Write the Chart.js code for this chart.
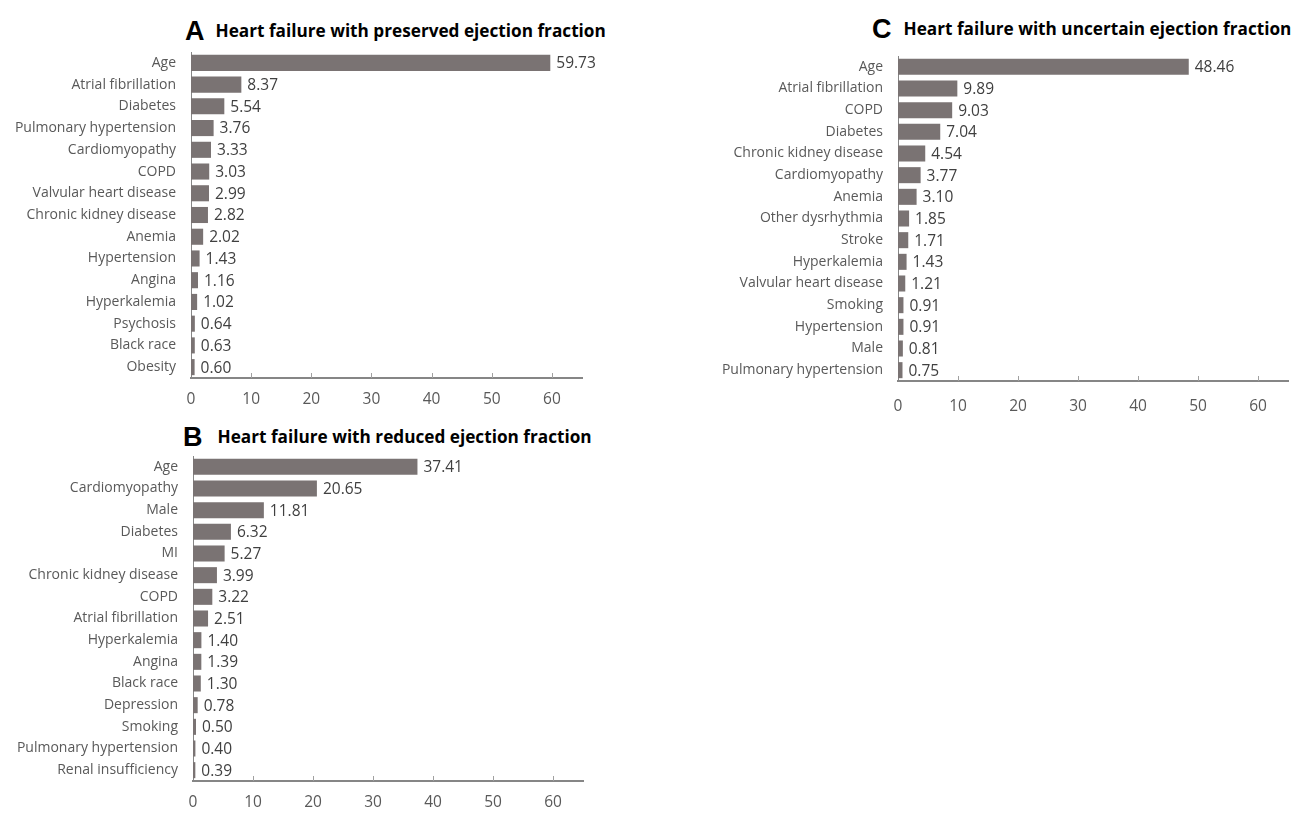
<!DOCTYPE html>
<html>
<head>
<meta charset="utf-8">
<script src="https://cdn.jsdelivr.net/npm/chart.js@4/dist/chart.umd.min.js"></script>
<style>
  html, body { margin:0; padding:0; background:#ffffff; }
  body { width:1299px; height:813px; position:relative; overflow:hidden; }
  canvas { position:absolute; }
  .title { position:absolute; white-space:nowrap; color:#000; }
  .title .big { font-family:'Liberation Sans', Arial, sans-serif; font-weight:bold; font-size:27px; vertical-align:-3px; }
  .title .txt { font-family:'Open Sans', sans-serif; font-weight:bold; font-size:17.2px; }
</style>
</head>
<body>
<div class="title" id="tA" style="left:185px; top:16px;"><span class="big" style="margin-right:11px;">A</span><span class="txt">Heart failure with preserved ejection fraction</span></div>
<div class="title" id="tB" style="left:183px; top:422px;"><span class="big" style="margin-right:15px;">B</span><span class="txt">Heart failure with reduced ejection fraction</span></div>
<div class="title" id="tC" style="left:872px; top:14px;"><span class="big" style="margin-right:12px;">C</span><span class="txt">Heart failure with uncertain ejection fraction</span></div>
<canvas id="cA"></canvas>
<canvas id="cB"></canvas>
<canvas id="cC"></canvas>
<script>
// ---- Data ----
const labelsA = ["Age","Atrial fibrillation","Diabetes","Pulmonary hypertension","Cardiomyopathy","COPD","Valvular heart disease","Chronic kidney disease","Anemia","Hypertension","Angina","Hyperkalemia","Psychosis","Black race","Obesity"];
const valuesA = [59.73,8.37,5.54,3.76,3.33,3.03,2.99,2.82,2.02,1.43,1.16,1.02,0.64,0.63,0.60];

const labelsB = ["Age","Cardiomyopathy","Male","Diabetes","MI","Chronic kidney disease","COPD","Atrial fibrillation","Hyperkalemia","Angina","Black race","Depression","Smoking","Pulmonary hypertension","Renal insufficiency"];
const valuesB = [37.41,20.65,11.81,6.32,5.27,3.99,3.22,2.51,1.40,1.39,1.30,0.78,0.50,0.40,0.39];

const labelsC = ["Age","Atrial fibrillation","COPD","Diabetes","Chronic kidney disease","Cardiomyopathy","Anemia","Other dysrhythmia","Stroke","Hyperkalemia","Valvular heart disease","Smoking","Hypertension","Male","Pulmonary hypertension"];
const valuesC = [48.46,9.89,9.03,7.04,4.54,3.77,3.10,1.85,1.71,1.43,1.21,0.91,0.91,0.81,0.75];

const axisMin = 0, axisMax = 65, axisStep = 10;

// ---- Style ----
Chart.defaults.font.family = "'Open Sans', sans-serif";
Chart.defaults.devicePixelRatio = 1;
const barColor = '#7a7373';
const labelColor = '#595959';
const valueColor = '#404040';
const axisColor = '#868686';

const valueLabels = {
  id: 'valueLabels',
  afterDatasetsDraw(chart) {
    const ctx = chart.ctx;
    const meta = chart.getDatasetMeta(0);
    const data = chart.data.datasets[0].data;
    ctx.save();
    ctx.font = "15.5px 'Open Sans', sans-serif";
    ctx.fillStyle = valueColor;
    ctx.textAlign = 'left';
    ctx.textBaseline = 'middle';
    meta.data.forEach((el, i) => {
      ctx.fillText(data[i].toFixed(2), el.x + 6, el.y + 1);
    });
    ctx.restore();
  }
};

const tickMarks = {
  id: 'tickMarks',
  afterDraw(chart) {
    const xs = chart.scales.x;
    const ctx = chart.ctx;
    ctx.save();
    ctx.strokeStyle = '#a0a0a0';
    ctx.lineWidth = 1;
    xs.ticks.forEach(t => {
      if (t.value === 0) return;
      const px = Math.round(xs.getPixelForValue(t.value)) + 0.5;
      ctx.beginPath();
      ctx.moveTo(px, xs.top);
      ctx.lineTo(px, xs.top - 5);
      ctx.stroke();
    });
    ctx.restore();
  }
};

function zeroPad(scale) {
  scale.paddingTop = 0; scale.paddingBottom = 0;
  scale.paddingLeft = 0; scale.paddingRight = 0;
}

function makeChart(id, labels, values, box, area, xPad) {
  const cv = document.getElementById(id);
  cv.width = box.w; cv.height = box.h;
  cv.style.left = box.left + 'px'; cv.style.top = box.top + 'px';
  cv.style.width = box.w + 'px'; cv.style.height = box.h + 'px';
  return new Chart(cv, {
    type: 'bar',
    data: {
      labels: labels,
      datasets: [{
        data: values,
        backgroundColor: barColor,
        borderWidth: 0,
        categoryPercentage: 1.0,
        barPercentage: 0.74
      }]
    },
    options: {
      indexAxis: 'y',
      responsive: false,
      animation: false,
      devicePixelRatio: 1,
      layout: { padding: { top: area.top - box.top, right: box.left + box.w - area.right, left: 0, bottom: 0 } },
      plugins: { legend: { display: false }, tooltip: { enabled: false }, title: { display: false } },
      scales: {
        x: {
          type: 'linear',
          min: axisMin, max: axisMax,
          grid: { display: false, drawTicks: false },
          border: { display: true, color: axisColor, width: 2 },
          ticks: { stepSize: axisStep, includeBounds: false, color: labelColor, font: { size: 15.5 }, padding: xPad },
          afterFit(scale) { scale.height = box.top + box.h - area.bottom; zeroPad(scale); }
        },
        y: {
          type: 'category',
          grid: { display: false, drawTicks: false },
          border: { display: true, color: axisColor, width: 1 },
          ticks: { color: labelColor, font: { size: 14 }, padding: 15, autoSkip: false },
          afterFit(scale) { scale.width = area.left - box.left; zeroPad(scale); }
        }
      }
    },
    plugins: [valueLabels, tickMarks]
  });
}

makeChart('cA', labelsA, valuesA, { left: 0, top: 40, w: 640, h: 380 }, { left: 191, top: 52, right: 582, bottom: 378 }, 12);
makeChart('cB', labelsB, valuesB, { left: 0, top: 445, w: 640, h: 368 }, { left: 193, top: 456, right: 583, bottom: 781 }, 12);
makeChart('cC', labelsC, valuesC, { left: 700, top: 40, w: 599, h: 380 }, { left: 898, top: 56, right: 1288, bottom: 381 }, 16);
</script>
</body>
</html>
